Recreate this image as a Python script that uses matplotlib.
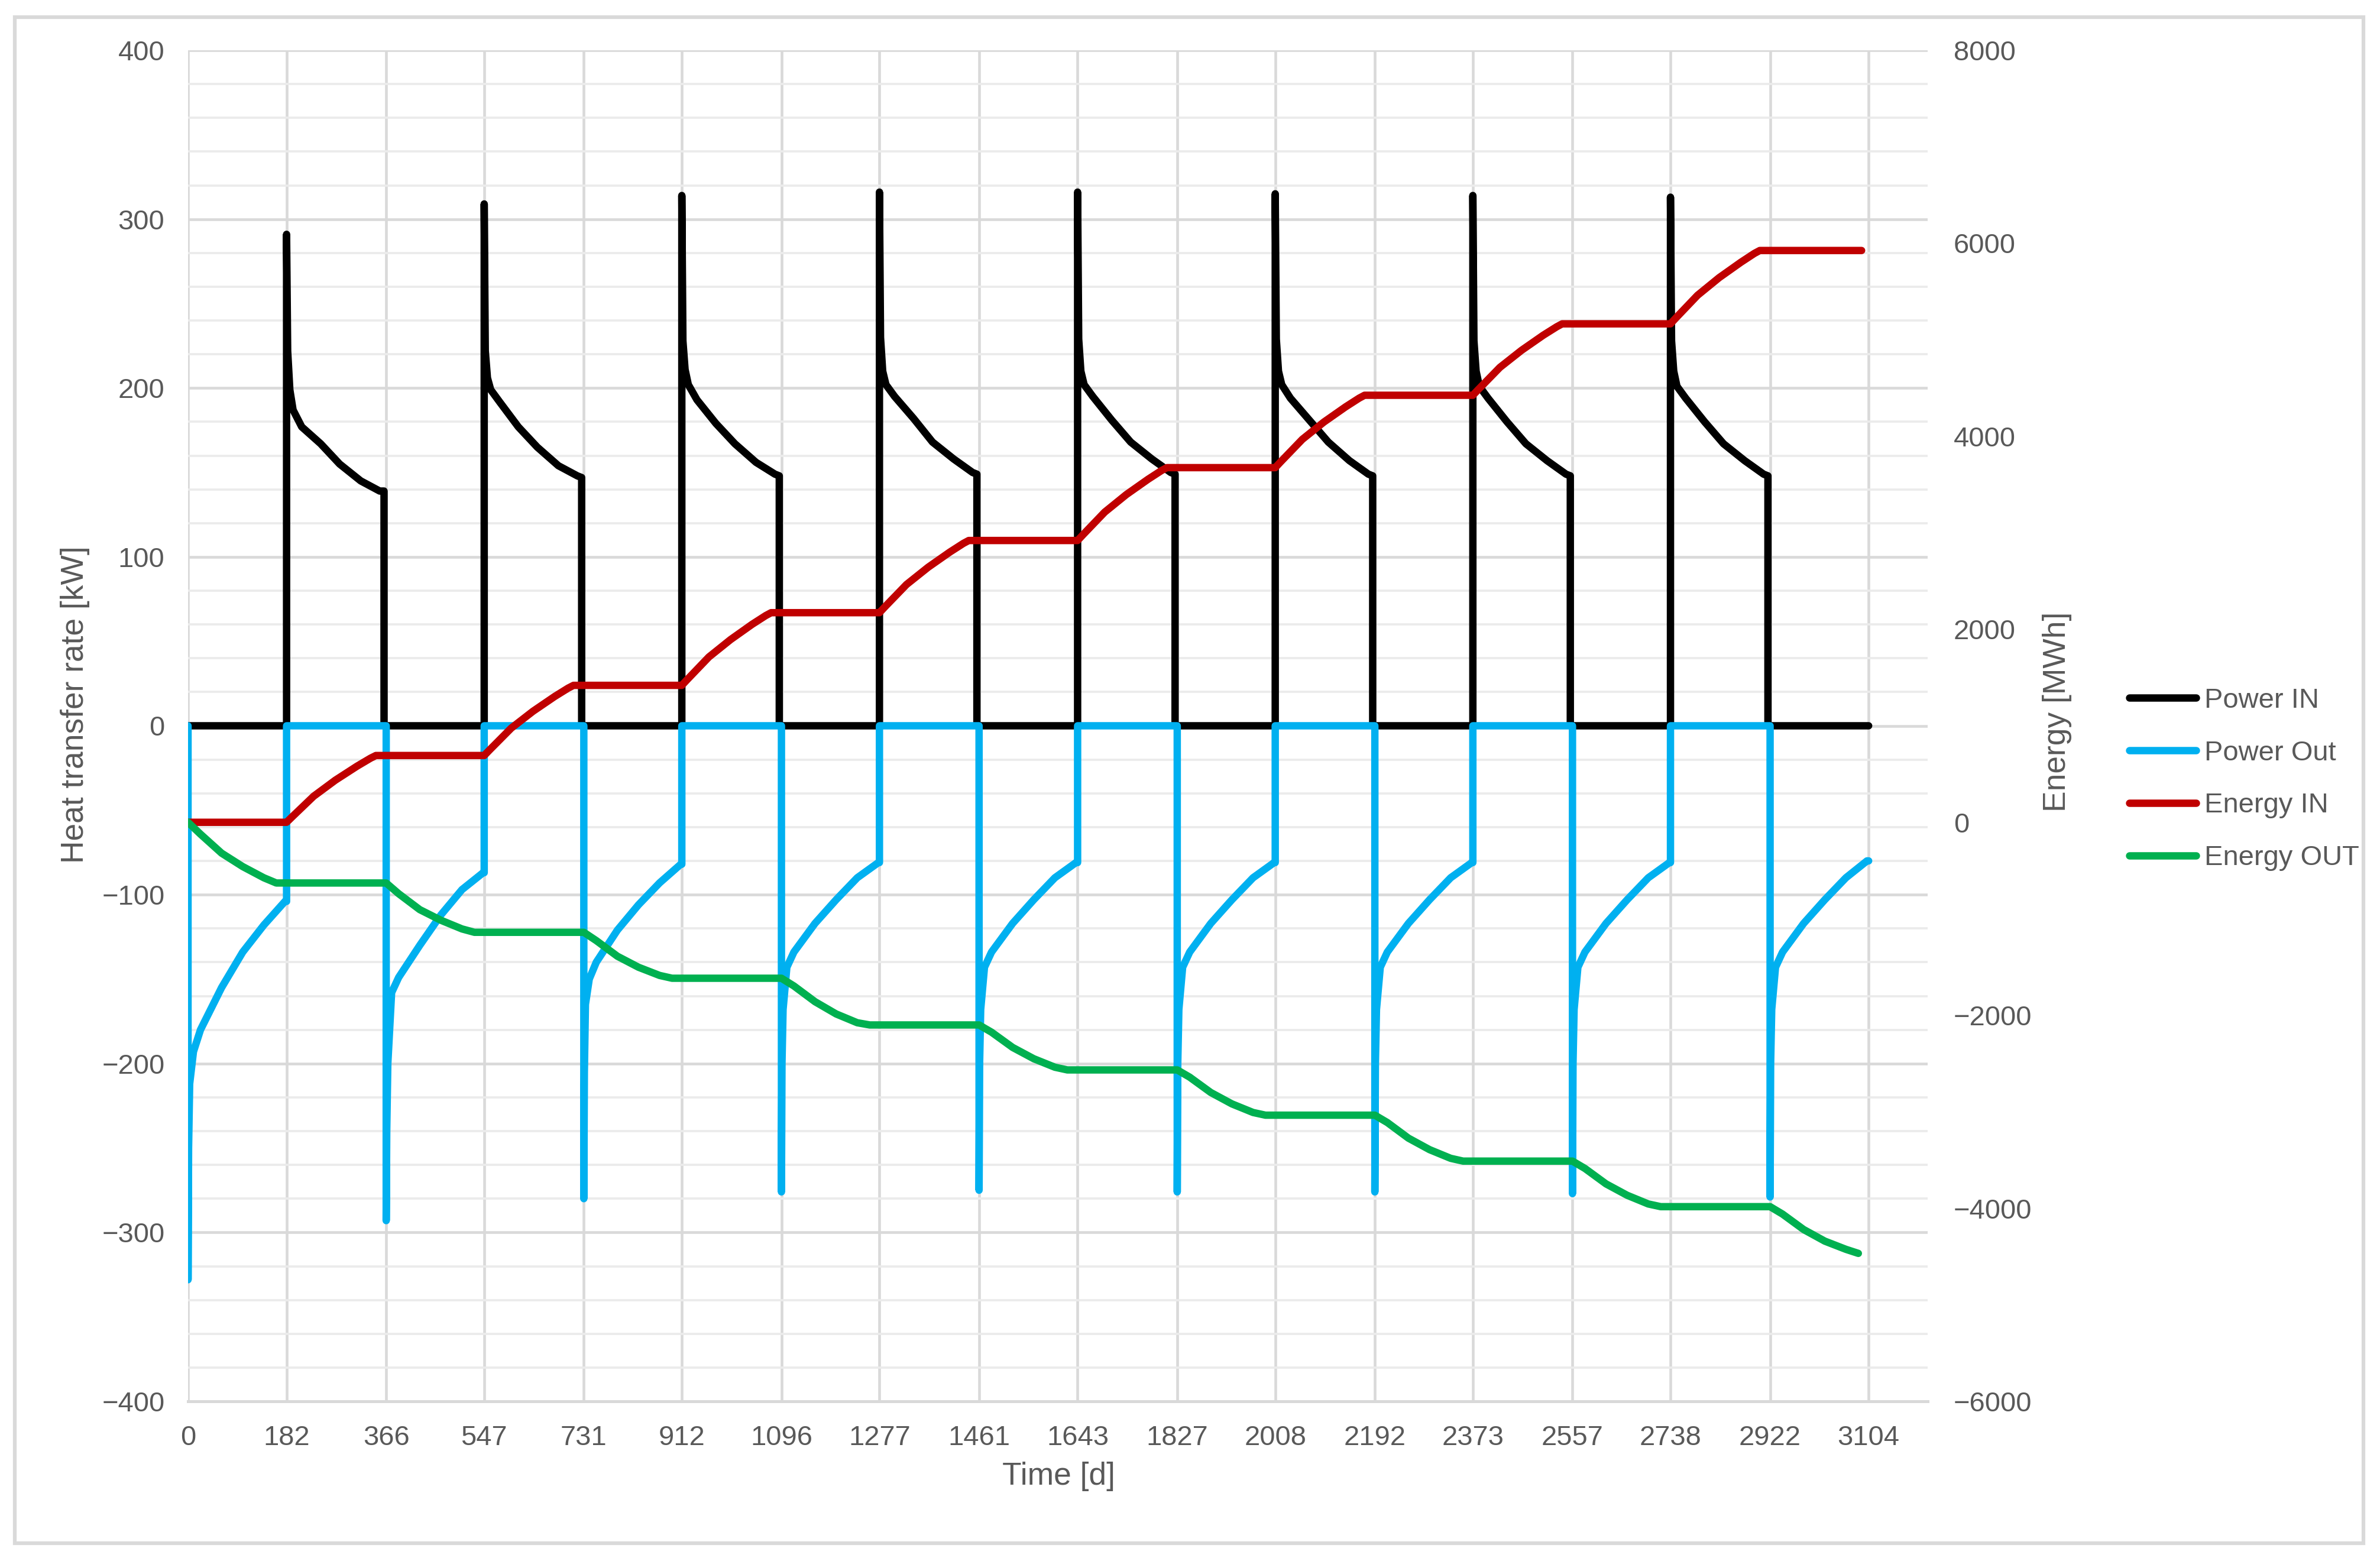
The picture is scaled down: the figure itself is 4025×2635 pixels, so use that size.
# seasonal storage: heat transfer rate and cumulated energy over 8.5 years
import matplotlib
matplotlib.use("Agg")
import matplotlib.pyplot as plt
from matplotlib.patches import Rectangle
from matplotlib.ticker import MultipleLocator

plt.rcParams['font.family'] = ['Liberation Sans', 'DejaVu Sans']

# half-year boundaries [d] (also the x tick labels)
cycle_days = [0, 182, 366, 547, 731, 912, 1096, 1277, 1461, 1643, 1827,
              2008, 2192, 2373, 2557, 2738, 2922, 3104]
discharge_starts = cycle_days[0:-1:2]   # 9 discharging periods
charge_starts = cycle_days[1:-1:2]      # 8 charging periods
energy_end_day = 3091

# Power IN [kW], one row per charging period, at day offsets from its start
pin_off = [0, 2, 6, 12, 28, 63, 98, 137, 172, 180]
pin_vals = [
    [291, 222, 199, 187, 177, 167, 155, 145, 139, 139],
    [309, 222, 206, 199, 192, 177, 165, 154, 148, 147],
    [314, 228, 211, 202, 193, 179, 167, 156, 149, 148],
    [316, 230, 210, 202, 195, 182, 168, 158, 150, 149],
    [316, 229, 210, 202, 195, 181, 168, 158, 150, 149],
    [315, 229, 210, 202, 194, 181, 168, 157, 149, 148],
    [314, 228, 210, 201, 194, 180, 167, 157, 149, 148],
    [313, 228, 210, 201, 194, 180, 167, 157, 149, 148],
]

# Power Out [kW], one row per discharging period
pout_off = [0, 1, 3, 10, 23, 62, 101, 140, 179]
pout_vals = [
    [-328, -250, -212, -193, -180, -155, -134, -118, -104],
    [-293, -240, -200, -158, -149, -130, -112, -97, -87],
    [-280, -205, -165, -150, -140, -121, -106, -93, -82],
    [-276, -200, -168, -143, -134, -117, -103, -90, -81],
    [-275, -200, -168, -143, -134, -117, -103, -90, -81],
    [-276, -200, -168, -143, -134, -117, -103, -90, -81],
    [-276, -200, -168, -143, -134, -117, -103, -90, -81],
    [-277, -200, -168, -143, -134, -117, -103, -90, -81],
    [-279, -200, -168, -143, -134, -117, -103, -90, -80],
]

# Energy IN [MWh], per charging period
ein_off = [0, 10, 50, 90, 130, 155, 165]
ein_vals = [
    [0, 55, 270, 436, 581, 664, 692],
    [692, 750, 976, 1150, 1303, 1390, 1419],
    [1419, 1479, 1713, 1893, 2052, 2142, 2172],
    [2172, 2232, 2464, 2643, 2800, 2890, 2920],
    [2920, 2980, 3214, 3396, 3554, 3645, 3675],
    [3675, 3735, 3968, 4148, 4305, 4395, 4425],
    [4425, 4484, 4714, 4891, 5047, 5135, 5165],
    [5165, 5226, 5461, 5644, 5803, 5895, 5925],
]

# Energy OUT [MWh], per discharging period
eout_off = [0, 23, 62, 101, 140, 163]
eout_vals = [
    [0, -123, -320, -459, -575, -629],
    [-629, -740, -905, -1015, -1105, -1140],
    [-1140, -1226, -1388, -1502, -1587, -1616],
    [-1616, -1696, -1859, -1986, -2077, -2100],
    [-2100, -2175, -2333, -2450, -2538, -2566],
    [-2566, -2641, -2800, -2918, -3007, -3035],
    [-3035, -3111, -3273, -3392, -3482, -3511],
    [-3511, -3587, -3747, -3865, -3955, -3983],
    [-3983, -4060, -4220, -4340, -4425, -4467],
]

# build the series
pin_x, pin_y = [0], [0]
for s, vals in zip(charge_starts, pin_vals):
    pin_x += [s] + [s + o for o in pin_off] + [s + pin_off[-1]]
    pin_y += [0] + vals + [0]
pin_x.append(cycle_days[-1])
pin_y.append(0)

pout_x, pout_y = [], []
for i, (s, vals) in enumerate(zip(discharge_starts, pout_vals)):
    e = cycle_days[2 * i + 1]
    pout_x += [s] + [s + o for o in pout_off] + [e]
    pout_y += [0] + vals + [vals[-1]]
    if e != cycle_days[-1]:
        pout_x.append(e)
        pout_y.append(0)

ein_x, ein_y = [0], [0]
for s, vals in zip(charge_starts, ein_vals):
    ein_x += [s + o for o in ein_off]
    ein_y += vals
ein_x.append(energy_end_day)
ein_y.append(ein_vals[-1][-1])

eout_x, eout_y = [], []
for s, vals in zip(discharge_starts, eout_vals):
    eout_x += [s + o for o in eout_off]
    eout_y += vals

text_col = '#595959'
grid_col = '#D9D9D9'
W, H = 4025, 2635

fig = plt.figure(figsize=(W / 300, H / 300), dpi=300)
ax = fig.add_axes([318 / W, 1 - 2370 / H, (3260 - 318) / W, (2370 - 85) / H])
ax2 = ax.twinx()

lw = 3.0
style = dict(lw=lw, solid_capstyle='round', solid_joinstyle='round')
l1, = ax.plot(pin_x, pin_y, color='#000000', label='Power IN', **style)
l2, = ax.plot(pout_x, pout_y, color='#00B0F0', label='Power Out', **style)
l3, = ax2.plot(ein_x, ein_y, color='#C00000', label='Energy IN', **style)
l4, = ax2.plot(eout_x, eout_y, color='#00B050', label='Energy OUT', **style)

ax.set_xlim(0, 3213)
ax.set_ylim(-400, 400)
ax2.set_ylim(-6000, 8000)
ax.set_xticks(cycle_days)
ax.set_xticklabels([str(d) for d in cycle_days])
ax.yaxis.set_major_locator(MultipleLocator(100))
ax.yaxis.set_minor_locator(MultipleLocator(20))
ax2.yaxis.set_major_locator(MultipleLocator(2000))

ax.grid(which='major', axis='both', color=grid_col, lw=1.1)
ax.grid(which='minor', axis='y', color='#EBEBEB', lw=0.9)
ax.set_axisbelow(True)

for sp in ['top', 'left', 'right']:
    ax.spines[sp].set_visible(False)
ax.spines['bottom'].set_color(grid_col)
ax.spines['bottom'].set_linewidth(1.2)
for sp in ax2.spines.values():
    sp.set_visible(False)

fs = 11.3
ax.tick_params(axis='x', length=0, pad=9.5, labelsize=fs, labelcolor=text_col)
ax.tick_params(axis='y', which='both', length=0, pad=9.5, labelsize=fs,
               labelcolor=text_col)
ax2.tick_params(axis='y', length=0, pad=10.5, labelsize=fs, labelcolor=text_col)

fig.text(127 / W, 1 - 1192 / H, 'Heat transfer rate [kW]', rotation=90,
         ha='center', va='center', fontsize=12.8, color=text_col)
fig.text(3479 / W, 1 - 1204 / H, 'Energy [MWh]', rotation=90,
         ha='center', va='center', fontsize=12.8, color=text_col)
fig.text(1790 / W, 1 - 2497 / H, 'Time [d]', ha='center', va='center',
         fontsize=12.8, color=text_col)

fig.legend([l1, l2, l3, l4], ['Power IN', 'Power Out', 'Energy IN', 'Energy OUT'],
           loc='center left', bbox_to_anchor=(3601 / W, 1 - 1318 / H),
           frameon=False, fontsize=fs, handlelength=2.4, handletextpad=0.3,
           labelspacing=0.95, borderpad=0, borderaxespad=0,
           labelcolor=text_col)

fig.patches.append(Rectangle((25 / W, 1 - 2610 / H), (3997 - 25) / W,
                             (2610 - 29) / H, fill=False, edgecolor=grid_col,
                             lw=1.5, transform=fig.transFigure, figure=fig))

fig.savefig('out.png', dpi=300)
